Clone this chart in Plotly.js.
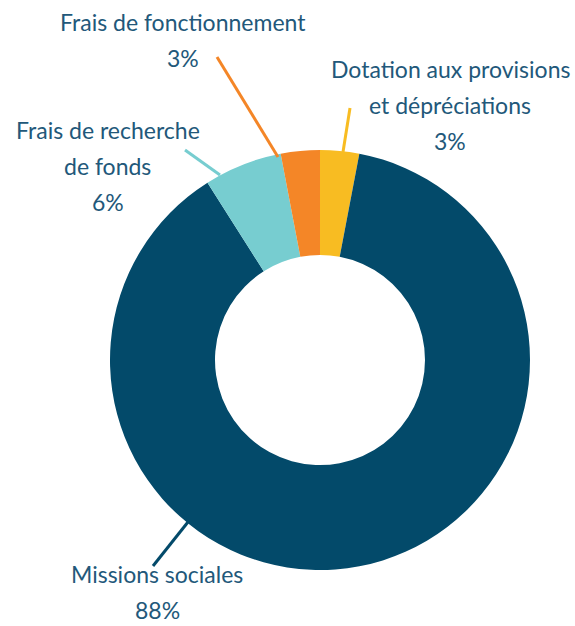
<!DOCTYPE html>
<html>
<head>
<meta charset="utf-8">
<script src="https://cdn.plot.ly/plotly-3.0.1.min.js"></script>
<style>
  html, body { margin: 0; padding: 0; background: white; }
  #chart { width: 575px; height: 626px; }
</style>
</head>
<body>
<div id="chart"></div>
<script>
// slices, clockwise from 12 o'clock
const categories = ['Dotation aux provisions et dépréciations', 'Missions sociales', 'Frais de recherche de fonds', 'Frais de fonctionnement'];
const values = [3, 88, 6, 3];
const percentLabels = ['3%', '88%', '6%', '3%'];
const labelLines = [
    ['Dotation aux provisions', 'et dépréciations'],
    ['Missions sociales'],
    ['Frais de recherche', 'de fonds'],
    ['Frais de fonctionnement']
];
const sliceColors = ['#f8bc22', '#034a6a', '#77cdd0', '#f48627'];

const W = 575, H = 626;
const px = x => x / W;
const py = y => 1 - y / H;

// label block placement (pixel centre x, first line y) and leader lines
const labelPos = [
    { x: 450, y: 69 },
    { x: 157, y: 574 },
    { x: 108, y: 130 },
    { x: 183, y: 22 }
];
const leaders = [
    [350, 108, 343, 152],
    [188, 522, 153, 566],
    [185, 150, 220, 175],
    [217, 57, 278, 157]
];
const lineStep = 36;
const textColor = '#22587a';

const trace = {
    type: 'pie',
    labels: categories,
    values: values,
    sort: false,
    direction: 'clockwise',
    rotation: 0,
    hole: 0.5,
    textinfo: 'none',
    hoverinfo: 'label+percent',
    marker: {
        colors: sliceColors,
        line: { color: 'white', width: 0 }
    },
    domain: {
        x: [px(110), px(530)],
        y: [py(570), py(150)]
    }
};

const annotations = [];
labelLines.forEach((lines, i) => {
    const all = lines.concat([percentLabels[i]]);
    all.forEach((t, j) => {
        annotations.push({
            xref: 'paper', yref: 'paper',
            x: px(labelPos[i].x),
            y: py(labelPos[i].y + j * lineStep),
            xanchor: 'center', yanchor: 'middle',
            text: t,
            showarrow: false,
            borderpad: 0,
            font: { family: 'Lato, sans-serif', size: 23, color: textColor }
        });
    });
});

const shapes = leaders.map((l, i) => ({
    type: 'line',
    xref: 'paper', yref: 'paper',
    x0: px(l[0]), y0: py(l[1]),
    x1: px(l[2]), y1: py(l[3]),
    line: { color: sliceColors[i], width: 3 }
}));

const layout = {
    width: W,
    height: H,
    showlegend: false,
    margin: { l: 0, r: 0, t: 0, b: 0 },
    paper_bgcolor: 'white',
    plot_bgcolor: 'white',
    annotations: annotations,
    shapes: shapes
};

const config = {
    responsive: false,
    displayModeBar: false
};

Plotly.newPlot('chart', [trace], layout, config);
</script>
</body>
</html>
